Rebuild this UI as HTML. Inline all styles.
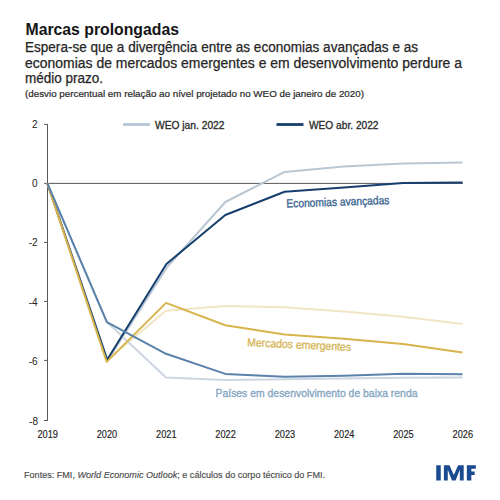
<!DOCTYPE html>
<html><head><meta charset="utf-8">
<style>
html,body{margin:0;padding:0;background:#fff;width:500px;height:500px;overflow:hidden}
svg{display:block}
text{font-family:"Liberation Sans",sans-serif}
</style></head>
<body>
<svg width="500" height="500" viewBox="0 0 500 500">
<rect width="500" height="500" fill="#fff"/>
<!-- header -->
<text x="25.5" y="35.2" font-size="15.8" font-weight="bold" fill="#141414" textLength="153.5" lengthAdjust="spacingAndGlyphs">Marcas prolongadas</text>
<text x="25" y="52" font-size="13.8" fill="#262626" stroke="#262626" stroke-width="0.25" textLength="393" lengthAdjust="spacingAndGlyphs">Espera-se que a divergência entre as economias avançadas e as</text>
<text x="25" y="67.5" font-size="13.8" fill="#262626" stroke="#262626" stroke-width="0.25" textLength="437" lengthAdjust="spacingAndGlyphs">economias de mercados emergentes e em desenvolvimento perdure a</text>
<text x="25" y="82.5" font-size="13.8" fill="#262626" stroke="#262626" stroke-width="0.25" textLength="78" lengthAdjust="spacingAndGlyphs">médio prazo.</text>
<text x="25" y="97.4" font-size="9.2" fill="#2a2a2a" stroke="#2a2a2a" stroke-width="0.2" textLength="339" lengthAdjust="spacingAndGlyphs">(desvio percentual em relação ao nível projetado no WEO de janeiro de 2020)</text>

<!-- axes -->
<g stroke="#595959" stroke-width="1" fill="none">
<line x1="47.5" y1="124.4" x2="47.5" y2="420.5"/>
<line x1="44" y1="124.4" x2="48" y2="124.4"/>
<line x1="44" y1="242.4" x2="48" y2="242.4"/>
<line x1="44" y1="301.4" x2="48" y2="301.4"/>
<line x1="44" y1="360.4" x2="48" y2="360.4"/>
<line x1="44" y1="420.5" x2="48" y2="420.5"/>
<line x1="44" y1="183.4" x2="463" y2="183.4"/>
</g>
<g font-size="10" fill="#222" text-anchor="end">
<text x="37.6" y="128">2</text>
<text x="37.6" y="187">0</text>
<text x="37.6" y="246">-2</text>
<text x="37.6" y="305.6">-4</text>
<text x="37.6" y="364.8">-6</text>
<text x="38" y="424.6">-8</text>
</g>
<g font-size="10.2" fill="#222" stroke="#222" stroke-width="0.15" text-anchor="middle">
<text x="47.7" y="437.9" textLength="20.5" lengthAdjust="spacingAndGlyphs">2019</text>
<text x="107.0" y="437.9" textLength="20.5" lengthAdjust="spacingAndGlyphs">2020</text>
<text x="166.3" y="437.9" textLength="20.5" lengthAdjust="spacingAndGlyphs">2021</text>
<text x="225.6" y="437.9" textLength="20.5" lengthAdjust="spacingAndGlyphs">2022</text>
<text x="284.9" y="437.9" textLength="20.5" lengthAdjust="spacingAndGlyphs">2023</text>
<text x="344.2" y="437.9" textLength="20.5" lengthAdjust="spacingAndGlyphs">2024</text>
<text x="403.5" y="437.9" textLength="20.5" lengthAdjust="spacingAndGlyphs">2025</text>
<text x="462.8" y="437.9" textLength="20.5" lengthAdjust="spacingAndGlyphs">2026</text>
</g>

<!-- legend -->
<line x1="123" y1="124.5" x2="150" y2="124.5" stroke="#b0c2d3" stroke-width="2.6"/>
<text x="155" y="128.8" font-size="10.5" fill="#2a2a2a" stroke="#2a2a2a" stroke-width="0.3" textLength="69.5" lengthAdjust="spacingAndGlyphs">WEO jan. 2022</text>
<line x1="276.5" y1="124.5" x2="303.5" y2="124.5" stroke="#173f6e" stroke-width="2.8"/>
<text x="309" y="128.8" font-size="10.5" fill="#2a2a2a" stroke="#2a2a2a" stroke-width="0.3" textLength="69.5" lengthAdjust="spacingAndGlyphs">WEO abr. 2022</text>

<!-- series -->
<g fill="none" stroke-width="2" stroke-linejoin="round">
<polyline stroke="#bac7d3" points="47.4,183.4 107.6,360.4 167.2,267.0 225.3,202.0 284.6,171.9 343.9,166.6 403.2,163.6 462.5,162.5"/>
<polyline stroke="#f0e5c4" points="47.4,183.4 106.7,360.4 166.0,310.8 225.3,306.0 284.6,307.2 343.9,311.6 403.2,316.8 462.5,324.1"/>
<polyline stroke="#ccd6e0" points="47.4,183.4 106.9,322.1 166.0,377.5 225.3,379.9 284.6,379.2 343.9,378.6 403.2,377.8 462.5,377.6"/>
<polyline stroke="#173f6e" points="47.4,183.4 107.2,359.8 166.4,264.0 225.3,215.0 284.6,191.7 343.9,187.5 403.2,183.1 462.5,182.5"/>
<polyline stroke="#d8b54c" points="47.4,183.4 106.7,361.9 166.0,302.9 225.3,325.3 284.6,334.4 343.9,338.7 403.2,343.9 462.5,352.5"/>
<polyline stroke="#5a82ab" points="47.4,183.4 106.9,322.1 166.0,353.8 225.3,373.9 284.6,376.8 343.9,375.8 403.2,373.8 462.5,374.2"/>
</g>

<!-- labels -->
<text x="286.5" y="207.6" transform="rotate(-2 286.5 207.6)" font-size="11.6" fill="#3a6592" stroke="#3a6592" stroke-width="0.35" textLength="103" lengthAdjust="spacingAndGlyphs">Economias avançadas</text>
<text x="247" y="346.2" transform="rotate(2.6 247 346.2)" font-size="11.6" fill="#d6b659" stroke="#d6b659" stroke-width="0.35" textLength="104" lengthAdjust="spacingAndGlyphs">Mercados emergentes</text>
<text x="215.5" y="397.3" font-size="11.6" fill="#86a6c2" stroke="#86a6c2" stroke-width="0.35" textLength="202" lengthAdjust="spacingAndGlyphs">Países em desenvolvimento de baixa renda</text>

<!-- footer -->
<text x="24" y="478" font-size="9.5" fill="#4a4a4a" stroke="#4a4a4a" stroke-width="0.15" textLength="301" lengthAdjust="spacingAndGlyphs">Fontes: FMI, <tspan font-style="italic">World Economic Outlook</tspan>; e cálculos do corpo técnico do FMI.</text>
<path fill="#1a4a8f" d="M436.25,465.15 L440.75,465.15 L440.75,480.45 L436.25,480.45Z M443.90,480.45 L443.90,465.15 L449.48,465.15 L453.80,475.05 L458.12,465.15 L463.70,465.15 L463.70,480.45 L459.83,480.45 L459.83,469.65 L455.60,480.45 L452.00,480.45 L447.77,469.65 L447.77,480.45Z M466.85,465.15 L475.85,465.15 L475.85,468.75 L471.35,468.75 L471.35,471.45 L474.68,471.45 L474.68,475.05 L471.35,475.05 L471.35,480.45 L466.85,480.45Z"/>
</svg>
</body></html>
